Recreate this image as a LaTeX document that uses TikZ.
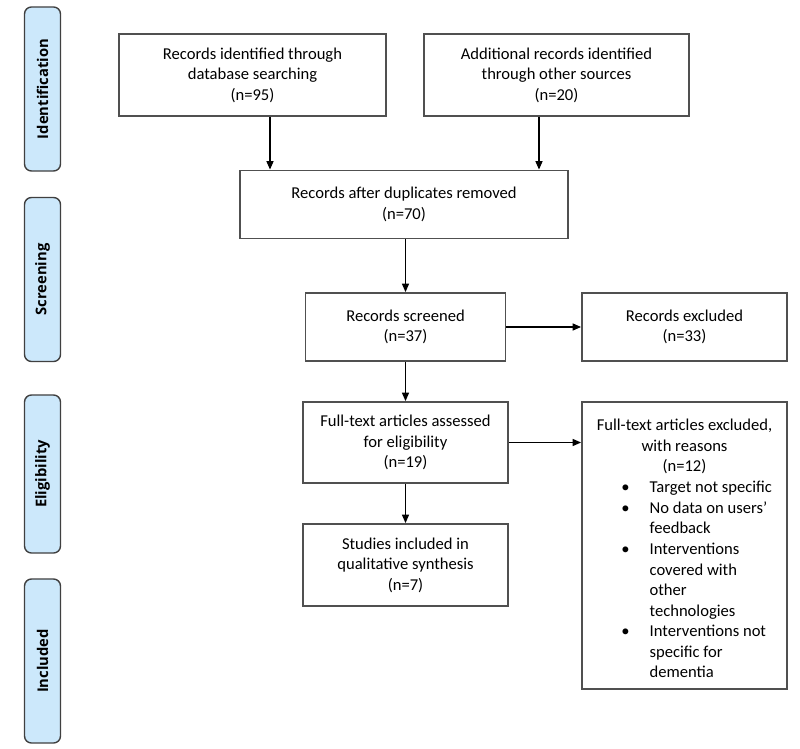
\documentclass[tikz,border=0pt]{standalone}
\usepackage{fontspec}
\setmainfont{Carlito}
\newfontfamily\sidefont{Open Sans}
\usepackage{xcolor}
\usepackage{tikz}
\usetikzlibrary{arrows.meta}
\definecolor{sideblue}{HTML}{CCE8FB}
\definecolor{boxgray}{HTML}{505050}

\begin{document}
\begin{tikzpicture}[x=0.025cm, y=-0.025cm, >={Triangle[length=6pt, width=5pt]},
    box/.style={draw=boxgray, line width=1.3pt, align=center, inner sep=0pt, font=\fontsize{11.8}{14.6}\selectfont},
    txt/.style={align=center, inner sep=0pt, font=\fontsize{11.8}{14.6}\selectfont},
    side/.style={draw=black!75, line width=1pt, fill=sideblue, rounded corners=5pt, rotate=90, minimum width=4.1cm, minimum height=0.9cm, font=\sidefont\bfseries\fontsize{10.5}{12}\selectfont},
    arr/.style={->, line width=0.9pt}]
    \useasboundingbox (0,0) rectangle (800,748);
    %画布(800x748),单位为像素(x=0.025cm)
    \node[side] (ident) at (42.5,89) {Identification};
    \node[side] (screen) at (42.5,279.5) {Screening};
    \node[side, minimum width=3.95cm] (elig) at (42.5,474) {Eligibility};
    \node[side] (incl) at (42.5,661) {Included};
    %左侧阶段标签(side),旋转90度(rotate=90),圆角(rounded corners)
    \node[box, minimum width=6.675cm, minimum height=2.05cm] (db) at (252.5,75) {Records identified through\\ database searching\\ (n=95)};
    \node[box, minimum width=6.625cm, minimum height=2.05cm] (other) at (556.5,75) {Additional records identified\\ through other sources\\ (n=20)};
    \node[box, minimum width=8.2cm, minimum height=1.7cm] (dup) at (404,204.5) {Records after duplicates removed\\ (n=70)};
    %第一层: 两个来源(db,other)和去重后(dup)
    \node[box, minimum width=5cm, minimum height=1.7cm] (scr) at (405.5,327) {Records screened\\ (n=37)};
    \node[box, minimum width=5.125cm, minimum height=1.7cm] (exc) at (684.5,327) {Records excluded\\ (n=33)};
    \node[box, minimum width=5.125cm, minimum height=2.025cm] (full) at (405.5,442.5) {Full-text articles assessed\\ for eligibility\\ (n=19)};
    \node[box, minimum width=5.125cm, minimum height=2.05cm] (final) at (405.5,565) {Studies included in\\ qualitative synthesis\\ (n=7)};
    %筛选(scr,exc),全文(full),纳入(final)
    \node[box, minimum width=5.125cm, minimum height=7.175cm] (fexc) at (684.5,545.5) {};
    \node[txt, anchor=north] (fexct) at ([yshift=-0.45cm]fexc.north) {Full-text articles excluded,\\ with reasons\\ (n=12)};
    \node[txt, anchor=north west, align=left] (why) at ([xshift=1.0cm, yshift=-1.93cm]fexc.north west) {%
      \begin{tabular}{@{}l@{\hspace{0.5cm}}l@{}}
        \textbullet & Target not specific\\
        \textbullet & No data on users’\\
                    & feedback\\
        \textbullet & Interventions\\
                    & covered with\\
                    & other\\
                    & technologies\\
        \textbullet & Interventions not\\
                    & specific for\\
                    & dementia
      \end{tabular}};
    %排除的全文(fexc),标题居中(fexct),理由列表(why)
    \coordinate (dbx) at (270,0);
    \coordinate (otherx) at (539,0);
    \draw[arr] (db.south -| dbx) -- (dup.north -| dbx);
    \draw[arr] (other.south -| otherx) -- (dup.north -| otherx);
    %来源到去重的箭头(->),在x=270和x=539处
    \draw[arr] (dup.south -| scr) -- (scr.north);
    \draw[arr] (scr.east) -- (exc.west);
    \draw[arr] (scr.south) -- (full.north);
    \draw[arr] (full.east) -- (full.east -| fexc.west);
    \draw[arr] (full.south) -- (final.north);
    %其余箭头: 向下(south到north)和向右(east到west)
\end{tikzpicture}
\end{document}
